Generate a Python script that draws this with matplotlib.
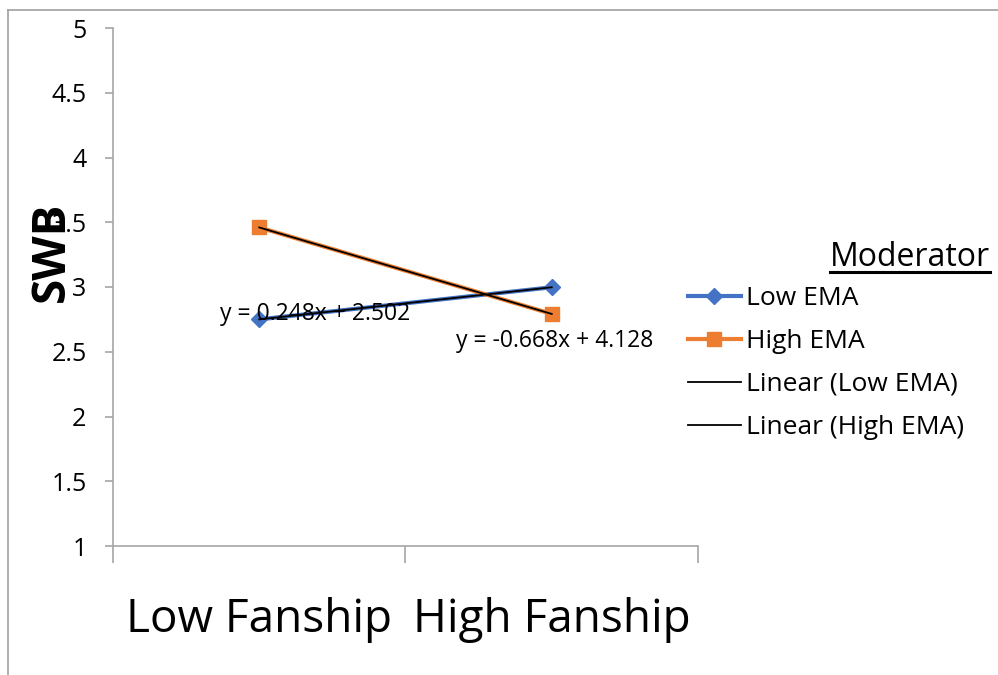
import numpy as np
import matplotlib
matplotlib.use("Agg")
import matplotlib.pyplot as plt
from matplotlib.lines import Line2D

plt.rcParams['font.family'] = ['Open Sans', 'DejaVu Sans']

categories = ["Low Fanship", "High Fanship"]
low_ema = [2.750, 2.998]
high_ema = [3.460, 2.792]
y_ticks = [1, 1.5, 2, 2.5, 3, 3.5, 4, 4.5, 5]
y_tick_labels = ["1", "1.5", "2", "2.5", "3", "3.5", "4", "4.5", "5"]

blue = "#4472C4"
orange = "#ED7D31"
gray = "#A6A6A6"
W, H = 998, 675

fig = plt.figure(figsize=(W/100, H/100), dpi=100)
ax = fig.add_axes([113/W, 1-546/H, (698-113)/W, (546-28)/H])

x = np.arange(1, len(categories) + 1)
ax.plot(x, low_ema, color=blue, lw=3, marker='D', ms=8.5, label="Low EMA", zorder=3)
ax.plot(x, high_ema, color=orange, lw=3, marker='s', ms=10, label="High EMA", zorder=3)

fits = []
for vals, lab in [(low_ema, "Linear (Low EMA)"), (high_ema, "Linear (High EMA)")]:
    m, b = np.polyfit(x, vals, 1)
    fits.append((m, b))
    ax.plot(x, m * x + b, color='black', lw=1.3, label=lab, zorder=4)

def eq(m, b):
    sign = "+" if b >= 0 else "-"
    return f"y = {m:.3f}x {sign} {abs(b):.3f}"

fig.text(220/W, 1-314/H, eq(*fits[0]), fontsize=16.5, va='center', ha='left', zorder=5)
fig.text(456/W, 1-341/H, eq(*fits[1]), fontsize=16.5, va='center', ha='left', zorder=5)

ax.set_xlim(0.5, len(categories) + 0.5)
ax.set_ylim(1, 5)
ax.set_yticks(y_ticks)
ax.set_yticklabels(y_tick_labels, fontsize=18)
ax.set_xticks(np.arange(0.5, len(categories) + 1, 1))
ax.set_xticklabels([])
ax.set_xticks(x, minor=True)
ax.set_xticklabels(categories, minor=True, fontsize=33)
ax.tick_params(axis='x', which='minor', length=0, pad=37)
ax.tick_params(axis='x', which='major', length=12, color=gray, width=1.2)
ax.tick_params(axis='y', length=6, color=gray, width=1.2, pad=13)

for s in ['top', 'right']:
    ax.spines[s].set_visible(False)
for s in ['left', 'bottom']:
    ax.spines[s].set_color(gray)
    ax.spines[s].set_linewidth(1.2)

fig.text(51/W, 1-252/H, "SWB", rotation=90, fontsize=33, fontweight='bold',
         ha='center', va='center', zorder=6)

leg = ax.legend(loc='center left', bbox_to_anchor=(688/W, 1-363/H),
                bbox_transform=fig.transFigure, frameon=False,
                fontsize=19, handlelength=2.0, handletextpad=0.2,
                labelspacing=0.68, borderaxespad=0, borderpad=0)

# legend title drawn separately, right aligned and underlined
title = fig.text(990/W, 1-257/H, "Moderator", fontsize=23, ha='right', va='center')

# outer chart border (partially visible)
fig.add_artist(Line2D([8/W, 8/W], [0, 1-10/H], color='#A0A0A0', lw=1.2))
fig.add_artist(Line2D([8/W, 1], [1-10/H, 1-10/H], color='#A0A0A0', lw=1.2))

fig.canvas.draw()
bb = title.get_window_extent()
fig.add_artist(Line2D([bb.x0/W, bb.x1/W], [1-272/H, 1-272/H], color='black', lw=2.2))

fig.savefig("out.png", dpi=100)
